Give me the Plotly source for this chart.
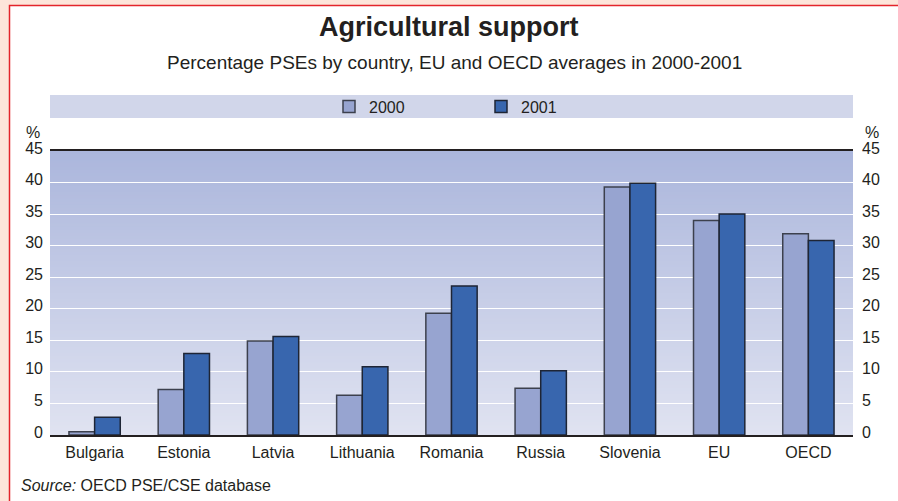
import plotly.graph_objects as go

# ---- data ----
countries = ["Bulgaria", "Estonia", "Latvia", "Lithuania", "Romania",
             "Russia", "Slovenia", "EU", "OECD"]
pse_2000 = [0.5, 7.2, 14.9, 6.3, 19.3, 7.4, 39.3, 34.0, 31.9]
pse_2001 = [2.8, 12.9, 15.6, 10.8, 23.6, 10.2, 39.9, 35.0, 30.8]
y_ticks = [0, 5, 10, 15, 20, 25, 30, 35, 40, 45]
series_names = ["2000", "2001"]

# ---- layout constants ----
W, H = 898, 501
L, R, T, B = 50, 45, 151, 66
PW, PH = W - L - R, H - T - B
FONT = "Liberation Sans, Arial, Helvetica, sans-serif"
TXT = "#231f20"


def fx(p):
    return (p - L) / PW


def fy(p):
    return (H - B - p) / PH


fig = go.Figure()
fig.add_trace(go.Bar(
    name=series_names[0], x=countries, y=pse_2000,
    marker=dict(color="#97a4d0", line=dict(color="#3c404d", width=1.5)),
))
fig.add_trace(go.Bar(
    name=series_names[1], x=countries, y=pse_2001,
    marker=dict(color="#3866ae", line=dict(color="#1e2535", width=1.5)),
))
# invisible trace to carry the right-hand axis
fig.add_trace(go.Scatter(
    x=countries, y=pse_2001, yaxis="y2", mode="markers",
    marker=dict(opacity=0), showlegend=False, hoverinfo="skip",
))

shapes = []
# white card with red border on peach background
shapes.append(dict(type="rect", xref="paper", yref="paper",
                   x0=fx(9.5), x1=fx(920), y0=fy(520), y1=fy(5.5),
                   fillcolor="white", line=dict(color="#e3242b", width=1.5),
                   layer="below"))
# legend band
shapes.append(dict(type="rect", xref="paper", yref="paper",
                   x0=0, x1=1, y0=fy(118), y1=fy(95),
                   fillcolor="#d1d6ea", line=dict(width=0), layer="below"))
# gradient plot background (stacked strips, each reaching the top -> no seams)
top = (0xab, 0xb6, 0xdc)
bot = (0xe0, 0xe3, 0xf1)
n = 90
ymax = y_ticks[-1]
for i in range(n):
    t = (i + 0.5) / n
    c = tuple(round(bot[k] + (top[k] - bot[k]) * t) for k in range(3))
    shapes.append(dict(type="rect", xref="paper", yref="y",
                       x0=0, x1=1, y0=ymax * i / n, y1=ymax,
                       fillcolor="rgb(%d,%d,%d)" % c, line=dict(width=0),
                       layer="below"))

annotations = [
    dict(text="<b>Agricultural support</b>", xref="paper", yref="paper",
         x=fx(449), y=fy(27), xanchor="center", yanchor="middle",
         showarrow=False, font=dict(size=27, color=TXT, family=FONT)),
    dict(text="Percentage PSEs by country, EU and OECD averages in 2000-2001",
         xref="paper", yref="paper", x=fx(454), y=fy(62),
         xanchor="center", yanchor="middle", showarrow=False,
         font=dict(size=19, color=TXT, family=FONT)),
    dict(text="%", xref="paper", yref="paper", x=fx(42), y=fy(132),
         xanchor="right", yanchor="middle", showarrow=False,
         font=dict(size=16, color=TXT, family=FONT)),
    dict(text="%", xref="paper", yref="paper", x=fx(863), y=fy(132),
         xanchor="left", yanchor="middle", showarrow=False,
         font=dict(size=16, color=TXT, family=FONT)),
    dict(text="<i>Source:</i> OECD PSE/CSE database", xref="paper", yref="paper",
         x=fx(19), y=fy(485), xanchor="left", yanchor="middle",
         showarrow=False, font=dict(size=16, color=TXT, family=FONT)),
]

fig.update_layout(
    width=W, height=H, autosize=False,
    margin=dict(l=L, r=R, t=T, b=B, pad=0),
    paper_bgcolor="#fde5da",
    plot_bgcolor="rgba(0,0,0,0)",
    font=dict(family=FONT, size=16, color=TXT),
    barmode="group", bargap=0.425, bargroupgap=0,
    showlegend=True,
    legend=dict(orientation="h", x=fx(329), y=fy(106.5), xanchor="left",
                yanchor="middle", bgcolor="rgba(0,0,0,0)",
                font=dict(size=16, color=TXT, family=FONT),
                entrywidth=107, entrywidthmode="pixels",
                traceorder="normal"),
    xaxis=dict(showline=True, mirror=True, linecolor="#231f20", linewidth=1.5,
               ticks="", showgrid=False, tickfont=dict(size=16),
               range=[-0.5, len(countries) - 0.5], fixedrange=True,
               ticklabelstandoff=2),
    yaxis=dict(range=[0, ymax], tickvals=y_ticks, showgrid=True,
               gridcolor="white", gridwidth=1.2, zeroline=False,
               showline=False, ticks="", tickfont=dict(size=16),
               ticklabelstandoff=6, ticklabelshift=-3),
    yaxis2=dict(range=[0, ymax], tickvals=y_ticks, overlaying="y", side="right",
                showgrid=False, zeroline=False, showline=False, ticks="",
                tickfont=dict(size=16), ticklabelstandoff=8, ticklabelshift=-3),
    shapes=shapes,
    annotations=annotations,
)

fig.write_html("out.html")
